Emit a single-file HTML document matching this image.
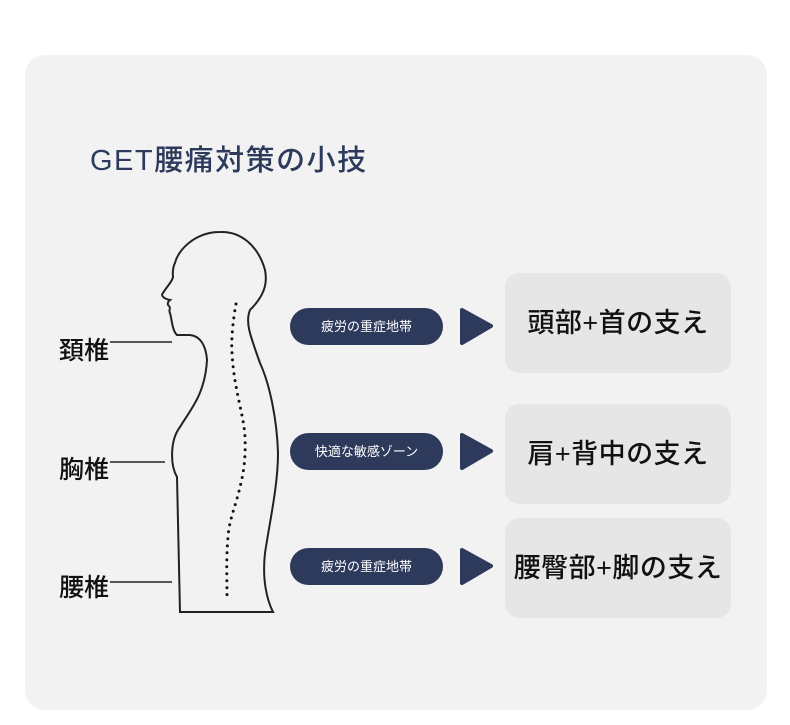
<!DOCTYPE html>
<html><head><meta charset="utf-8"><style>
body{margin:0;width:790px;height:725px;background:#fff;position:relative;overflow:hidden;font-family:"Liberation Sans","Noto Sans CJK JP",sans-serif}
.card{position:absolute;left:25px;top:55px;width:742px;height:655px;background:#f2f2f2;border-radius:20px}
.t{position:absolute;left:90px;top:137px;font-size:29px;color:#2e3a5c;font-weight:500;letter-spacing:1.5px}
.lab{position:absolute;left:59px;font-size:25px;color:#111;font-weight:500}
.pill{position:absolute;left:290px;width:153px;height:37px;border-radius:19px;background:#2e3a5c;color:#fff;font-size:13px;line-height:37px;text-align:center}
.box{position:absolute;left:505px;width:226px;height:100px;border-radius:14px;background:#e6e6e6;font-size:27px;line-height:100px;text-align:center;color:#111;font-weight:500;letter-spacing:0.5px}
</style></head><body>
<div class="card"></div>
<div class="t">GET腰痛対策の小技</div>
<svg width="790" height="725" style="position:absolute;left:0;top:0">
<path d="M220,232 C240,231 258,245 265,270 C268,285 263,297 250,310 C245,322 250,335 260,363 C270,385 277,420 278,453 C278,485 270,520 265,553 C262,580 267,600 273,612 L180,612 L177,477 C170,465 170,440 180,427 C190,410 205,395 207,360 C206,345 200,336 190,335 L177,335 C172,330 172,320 170,313 C168,310 172,308 168,305 C167,302 170,300 170,300 C165,299 160,296 163,293 C168,285 172,282 173,277 C172,268 175,263 175,263 C178,250 195,232 220,232 Z" fill="none" stroke="#222" stroke-width="2"/>
<path d="M236,304 C233,320 231,340 232,353 C234,390 244,415 245,437 C246,460 243,475 240,487 C236,505 229,520 228,537 C226,560 227,580 227,595" fill="none" stroke="#111" stroke-width="3" stroke-linecap="round" stroke-dasharray="0 7"/>
<g stroke="#222" stroke-width="1.5"><line x1="110" y1="342" x2="172" y2="342"/><line x1="110" y1="462" x2="165" y2="462"/><line x1="110" y1="582" x2="172" y2="582"/></g>
<g fill="#2e3a5c" stroke="#2e3a5c" stroke-width="4" stroke-linejoin="round"><path d="M462,310 L491,326 L462,343 Z"/><path d="M462,435 L491,451 L462,468 Z"/><path d="M462,550 L491,566 L462,583 Z"/></g>
</svg>
<div class="lab" style="top:331px">頚椎</div>
<div class="lab" style="top:450px">胸椎</div>
<div class="lab" style="top:568px">腰椎</div>
<div class="pill" style="top:308px">疲労の重症地帯</div>
<div class="pill" style="top:433px">快適な敏感ゾーン</div>
<div class="pill" style="top:548px">疲労の重症地帯</div>
<div class="box" style="top:273px">頭部+首の支え</div>
<div class="box" style="top:404px">肩+背中の支え</div>
<div class="box" style="top:518px">腰臀部+脚の支え</div>
</body></html>
